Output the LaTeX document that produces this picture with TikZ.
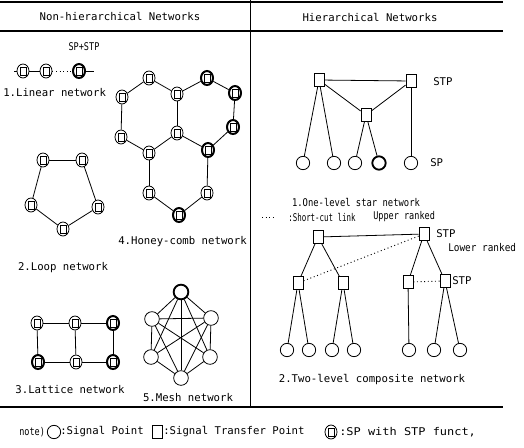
\documentclass[tikz,border=0pt]{standalone}
\usepackage{fontspec}
\usepackage{graphicx}
\setmonofont{DejaVu Sans Mono}
\usetikzlibrary{shapes.geometric}
\begin{document}
\begin{tikzpicture}[x=0.75pt,y=-0.75pt,
  lnk/.style={line width=0.6pt},
  sclink/.style={line width=0.7pt, dotted},
  rule/.style={line width=1pt},
  txt/.style={font=\ttfamily\fontsize{8}{9.5}\selectfont, inner sep=0pt},
  sps/.style={ellipse, draw, inner sep=0pt, minimum width=9pt, minimum height=10.5pt,
    line width=0.6pt, fill=white,
    path picture={\draw[line width=0.5pt]
      ([shift={(-2.3pt,-3.1pt)}]path picture bounding box.center) rectangle
      ([shift={(2.3pt,3.1pt)}]path picture bounding box.center);}},
  spsb/.style={sps, line width=1.5pt},
  stp/.style={rectangle, draw, inner sep=0pt, minimum width=7.5pt, minimum height=10pt, line width=0.6pt, fill=white},
  sp/.style={circle, draw, inner sep=0pt, minimum size=10pt, line width=0.6pt, fill=white},
  mp/.style={sp, minimum size=11pt},
  mpb/.style={mp, line width=1.4pt},
  spb/.style={sp, line width=1.4pt}]
\useasboundingbox (0,0) rectangle (524,447);
% frame rules
\draw[rule] (0,2) -- (503,2);
\draw[rule] (0,31) -- (503,31);
\draw[rule] (0,407) -- (503,407);
\draw[lnk] (250,0) -- (250,407);
% headers
\node[txt] (h1) at (120,16) {Non-hierarchical Networks};
\node[txt] (h2) at (370,17) {Hierarchical Networks};

% ---------- 1. Linear network
\node[txt] (lsps) at (84,47) {\scalebox{0.8}[1]{SP+STP}};
\coordinate (la) at (14,71);
\coordinate (lb) at (94,71);
\node[sps] (l1) at (23,71) {};
\node[sps] (l2) at (46,71) {};
\node[spsb] (l3) at (79,71) {};
\draw[lnk] (la) -- (l1);
\draw[lnk] (l1) -- (l2);
\draw[sclink] (l2) -- (l3);
\draw[lnk] (l3) -- (lb);
\node[txt, anchor=west] (llab) at (3,93) {1.Linear network};

% ---------- 4. Honey-comb network
\node[sps] (hA) at (149,78) {};
\node[sps] (hB) at (122,97) {};
\node[sps] (hC) at (177,94) {};
\node[spsb] (hD) at (207,78) {};
\node[spsb] (hE) at (235,93) {};
\node[sps] (hF) at (121,137) {};
\node[sps] (hG) at (177,133) {};
\node[spsb] (hH) at (233,127) {};
\node[sps] (hI) at (149,153) {};
\node[spsb] (hJ) at (208,150) {};
\node[sps] (hK) at (149,193) {};
\node[sps] (hL) at (207,193) {};
\node[spsb] (hM) at (179,215) {};
\foreach \a/\b in {hA/hB,hA/hC,hC/hD,hD/hE,hE/hH,hH/hJ,hJ/hG,hG/hC,hG/hI,hI/hF,hF/hB,hI/hK,hK/hM,hM/hL,hL/hJ}
  \draw[lnk] (\a) -- (\b);
\node[txt, anchor=west] (hlab) at (118,242) {4.Honey-comb network};

% ---------- 2. Loop network
\node[sps] (p1) at (43,160) {};
\node[sps] (p2) at (82,160) {};
\node[sps] (p3) at (98,207) {};
\node[sps] (p4) at (63,229) {};
\node[sps] (p5) at (31,205) {};
\foreach \a/\b in {p1/p2,p2/p3,p3/p4,p4/p5,p5/p1}
  \draw[lnk] (\a) -- (\b);
\node[txt] (plab) at (63,268) {2.Loop network};

% ---------- 3. Lattice network
\node[sps] (t1) at (37,323) {};
\node[sps] (t2) at (75,323) {};
\node[spsb] (t3) at (113,323) {};
\node[spsb] (t4) at (38,362) {};
\node[sps] (t5) at (76,362) {};
\node[spsb] (t6) at (113,362) {};
\foreach \a/\b in {t1/t2,t2/t3,t4/t5,t5/t6,t1/t4,t2/t5,t3/t6}
  \draw[lnk] (\a) -- (\b);
\node[txt] (tlab) at (70,390) {3.Lattice network};

% ---------- 5. Mesh network
\node[mpb] (m1) at (181,292) {};
\node[mp] (m2) at (211,318) {};
\node[mp] (m3) at (210,357) {};
\node[mp] (m4) at (181,378) {};
\node[mp] (m5) at (151,357) {};
\node[mp] (m6) at (152,319) {};
\foreach \a/\b in {m1/m2,m2/m3,m3/m4,m4/m5,m5/m6,m6/m1,m1/m4,m2/m5,m3/m6,m1/m3,m1/m5,m2/m6,m2/m4,m6/m4}
  \draw[lnk] (\a) -- (\b);
\node[txt] (mlab) at (188,398) {5.Mesh network};

% ---------- Hierarchical 1. One-level star network
\node[stp] (s1) at (319,80) {};
\node[stp] (s2) at (411,81) {};
\node[stp] (s3) at (366,115) {};
\node[txt, anchor=west] (sstp) at (433,82) {STP};
\node[sp] (c1) at (303,163) {};
\node[sp] (c2) at (334,163) {};
\node[sp] (c3) at (355,163) {};
\node[spb] (c4) at (379,163) {};
\node[sp] (c5) at (411,163) {};
\node[txt, anchor=west] (ssp) at (430,163) {SP};
\foreach \a/\b in {s1/s2,s1/s3,s2/s3,s1/c1,s1/c2,s3/c3,s3/c4,s2/c5}
  \draw[lnk] (\a) -- (\b);
\node[txt] (slab) at (356,202) {\scalebox{0.83}[1]{1.One-level star network}};

% ---------- Hierarchical 2. Two-level composite network
\coordinate (ka) at (262,217);
\coordinate (kb) at (276,217);
\draw[sclink] (ka) -- (kb);
\node[txt, anchor=west] (klab) at (288,217) {\scalebox{0.7}[1]{:Short-cut link}};
\node[txt, anchor=west] (uplab) at (373,217) {\scalebox{0.8}[1]{Upper ranked}};
\node[stp] (u1) at (318,237) {};
\node[stp] (u2) at (424,234) {};
\node[txt, anchor=west] (ustp) at (436,234) {STP};
\node[txt, anchor=west] (lowlab) at (448,248) {\scalebox{0.88}[1]{Lower ranked}};
\node[stp] (w1) at (298,283) {};
\node[stp] (w2) at (343,283) {};
\node[stp] (w3) at (408,282) {};
\node[stp] (w4) at (445,281) {};
\node[txt, anchor=west] (wstp) at (452,281) {STP};
\node[sp] (d1) at (287,350) {};
\node[sp] (d2) at (309,350) {};
\node[sp] (d3) at (332,350) {};
\node[sp] (d4) at (354,350) {};
\node[sp] (d5) at (409,350) {};
\node[sp] (d6) at (434,350) {};
\node[sp] (d7) at (460,350) {};
\foreach \a/\b in {u1/u2,u1/w1,u1/w2,u2/w3,u2/w4,w1/d1,w1/d2,w2/d3,w2/d4,w3/d5,w4/d6,w4/d7}
  \draw[lnk] (\a) -- (\b);
\draw[sclink] (u2) -- (w1);
\draw[sclink] (w3) -- (w4);
\node[txt] (dlab) at (372,380) {2.Two-level composite network};

% ---------- note
\node[txt, anchor=west] (note) at (19,432) {\scalebox{0.8}[1]{note)}};
\node[sp] (ncirc) at (54,432) {};
\node[txt, anchor=west] (nsp) at (60,432) {:Signal Point};
\node[stp] (nsq) at (157,432) {};
\node[txt, anchor=west] (nstp) at (163,432) {:Signal Transfer Point};
\node[sps] (nsps) at (331,432) {};
\node[txt, anchor=west] (nspstp) at (339,432) {\scalebox{1.12}[1]{:SP with STP funct,}};
\end{tikzpicture}
\end{document}
